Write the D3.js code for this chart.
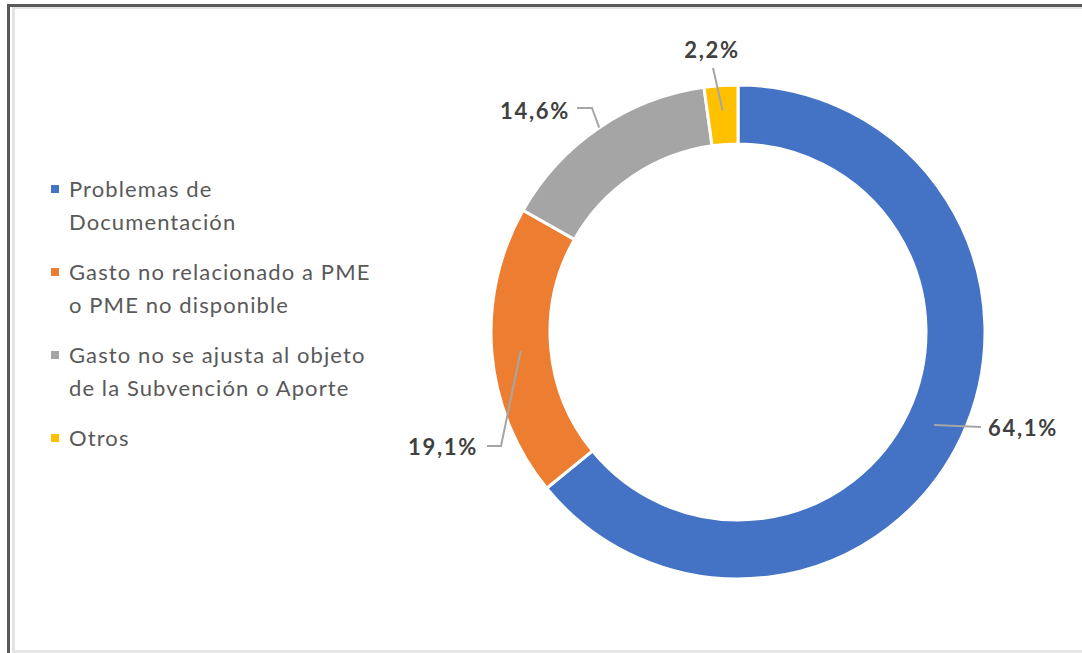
<!DOCTYPE html>
<html>
<head>
<meta charset="utf-8">
<script src="https://cdn.jsdelivr.net/npm/d3@7"></script>
<style>
  body { margin: 0; background: #fff; }
  svg { display: block; }
</style>
</head>
<body>
<script>
// Datos del gráfico
var categorias = ["Problemas de Documentación", "Gasto no relacionado a PME o PME no disponible", "Gasto no se ajusta al objeto de la Subvención o Aporte", "Otros"];
var lineasLeyenda = [["Problemas de", "Documentación"], ["Gasto no relacionado a PME", "o PME no disponible"], ["Gasto no se ajusta al objeto", "de la Subvención o Aporte"], ["Otros"]];
var valores = [64.1, 19.1, 14.6, 2.2];
var etiquetas = ["64,1%", "19,1%", "14,6%", "2,2%"];
var colores = ["#4472C4", "#ED7D31", "#A5A5A5", "#FFC000"];

var W = 1082, H = 653;
var svg = d3.select("body").append("svg").attr("width", W).attr("height", H);

// Marco
svg.append("rect").attr("x", 7).attr("y", 4).attr("width", W).attr("height", 3).attr("fill", "#595959");
svg.append("rect").attr("x", 7).attr("y", 4).attr("width", 3).attr("height", H).attr("fill", "#595959");
svg.append("rect").attr("x", 12).attr("y", 7).attr("width", W).attr("height", 2).attr("fill", "#e3e3e3");
svg.append("rect").attr("x", 12).attr("y", 7).attr("width", 3).attr("height", H).attr("fill", "#e3e3e3");
svg.append("rect").attr("x", 15).attr("y", 650).attr("width", W).attr("height", 3).attr("fill", "#e6e6e6");

// Donut
var cx = 738, cy = 332, rOut = 247, rIn = 188;
var pie = d3.pie().sort(null).value(d => d);
var arcs = pie(valores);
var arc = d3.arc().innerRadius(rIn).outerRadius(rOut);

var g = svg.append("g").attr("transform", `translate(${cx},${cy})`);
g.selectAll("path").data(arcs).enter().append("path")
  .attr("d", arc)
  .attr("fill", (d, i) => colores[i])
  .attr("stroke", "#fff")
  .attr("stroke-width", 3);

// Etiquetas con líneas guía
function polar(a, r) { return [r * Math.sin(a), -r * Math.cos(a)]; }
var radioGuia = [217, 218, 247, 222];
var quiebre = [null, [-237, 114], [-146, -224], null];
var finGuia = [[243, 95], [-251, 114], [-161, -224], [-25, -264]];
var anclas = ["start", "end", "end", "middle"];
var posTexto = [[250, 104], [-260, 123], [-168, -213], [-26, -274]];

arcs.forEach((d, i) => {
  var mid = (d.startAngle + d.endAngle) / 2;
  var p0 = polar(mid, radioGuia[i]);
  var pts = [p0];
  if (quiebre[i]) pts.push(quiebre[i]);
  pts.push(finGuia[i]);
  g.append("path")
    .attr("d", d3.line()(pts))
    .attr("fill", "none")
    .attr("stroke", "#A6A6A6")
    .attr("stroke-width", 2);
  g.append("text")
    .attr("x", posTexto[i][0])
    .attr("y", posTexto[i][1])
    .attr("text-anchor", anclas[i])
    .attr("font-family", "Lato")
    .attr("font-weight", "bold")
    .attr("font-size", 22)
    .attr("letter-spacing", 1.7)
    .attr("fill", "#404040")
    .text(etiquetas[i]);
});

// Leyenda
var leyenda = svg.append("g");
var yItem = [189, 272, 355, 438];
lineasLeyenda.forEach((lineas, i) => {
  leyenda.append("rect")
    .attr("x", 51).attr("y", yItem[i] - 4)
    .attr("width", 8).attr("height", 8)
    .attr("fill", colores[i]);
  lineas.forEach((t, j) => {
    leyenda.append("text")
      .attr("x", 69)
      .attr("y", yItem[i] + 8 + j * 33)
      .attr("font-family", "Lato")
      .attr("font-size", 22)
      .attr("letter-spacing", 1.1)
      .attr("fill", "#595959")
      .text(t);
  });
});
</script>
</body>
</html>
